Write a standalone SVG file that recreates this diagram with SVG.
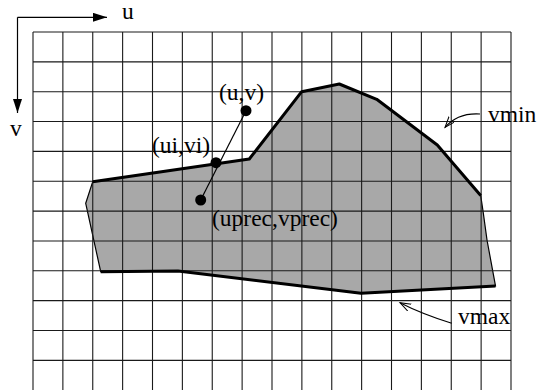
<svg xmlns="http://www.w3.org/2000/svg" width="538" height="390" viewBox="0 0 538 390">
<style>
.grid{stroke:#1a1a1a;stroke-width:1.1;fill:none}
.lbl{font-family:"Liberation Serif","Times New Roman",serif;font-size:23.5px;fill:#000}
.thick{stroke:#000;stroke-width:3;fill:none;stroke-linejoin:round}
.thin{stroke:#000;stroke-width:1.2;fill:none}
.leader{stroke:#000;stroke-width:1.1;fill:none}
</style>
<defs>
<marker id="solid" markerUnits="userSpaceOnUse" markerWidth="16" markerHeight="10" refX="14" refY="4.5" orient="auto">
<path d="M0,0 L14,4.5 L0,9 Z" fill="#000"/>
</marker>
<marker id="open" markerUnits="userSpaceOnUse" markerWidth="14" markerHeight="10" refX="11" refY="4" orient="auto">
<path d="M0,0 L11,4 L0,8" fill="none" stroke="#000" stroke-width="1"/>
</marker>
</defs>
<rect width="538" height="390" fill="#fff"/>
<g id="region">
<polygon points="92.7,181.7 249.3,159 301.7,91.7 339.3,84 376.7,99.3 437.3,145 480.7,195.5 483.3,213 487,240 495.5,286 361,293.3 178,271 100.7,271.7 85.7,203.3" fill="#a8a8a8" stroke="#000" stroke-width="1.2"/>
</g>
<g id="grid">
<path class="grid" d="M33,32V390 M62.875,32V390 M92.75,32V390 M122.625,32V390 M152.5,32V390 M182.375,32V390 M212.25,32V390 M242.125,32V390 M272,32V390 M301.875,32V390 M331.75,32V390 M361.625,32V390 M391.5,32V390 M421.375,32V390 M451.25,32V390 M481.125,32V390 M511,32V390
M33,32H511 M33,61.85H511 M33,91.7H511 M33,121.55H511 M33,151.4H511 M33,181.25H511 M33,211.1H511 M33,240.95H511 M33,270.8H511 M33,300.65H511 M33,330.5H511 M33,360.35H511"/>
</g>
<g id="vmin-curve">
<polyline class="thick" points="92.7,181.7 249.3,159 301.7,91.7 339.3,84 376.7,99.3 437.3,145 480.7,195.5"/>
</g>
<g id="vmax-curve">
<polyline class="thick" points="100.7,271.7 178,271 361,293.3 495.5,286"/>
</g>
<g id="axes">
<line x1="17.5" y1="17.3" x2="107" y2="17.3" stroke="#000" stroke-width="1.2" marker-end="url(#solid)"/>
<line x1="17.5" y1="17.3" x2="17.5" y2="113" stroke="#000" stroke-width="1.2" marker-end="url(#solid)"/>
<text class="lbl" x="122" y="19">u</text>
<text class="lbl" x="10" y="136">v</text>
</g>
<g id="connectors">
<line class="thin" x1="200.7" y1="200" x2="246" y2="110.7"/>
<path class="leader" d="M480,114 C464,113 453,118 445,127.5" marker-end="url(#open)"/>
<path class="leader" d="M451.7,323.3 C432,317 416,311 400,302.7" marker-end="url(#open)"/>
</g>
<g id="point-uv">
<circle cx="246" cy="110.7" r="5.5" fill="#000"/>
<text class="lbl" x="219" y="100">(u,v)</text>
</g>
<g id="point-uivi">
<circle cx="216" cy="162.7" r="5.5" fill="#000"/>
<text class="lbl" x="152" y="153">(ui,vi)</text>
</g>
<g id="point-uprec">
<circle cx="200.7" cy="200" r="5.5" fill="#000"/>
<text class="lbl" x="212" y="226">(uprec,vprec)</text>
</g>
<g id="label-vmin">
<text class="lbl" x="488" y="122">vmin</text>
</g>
<g id="label-vmax">
<text class="lbl" x="458" y="324">vmax</text>
</g>
</svg>
